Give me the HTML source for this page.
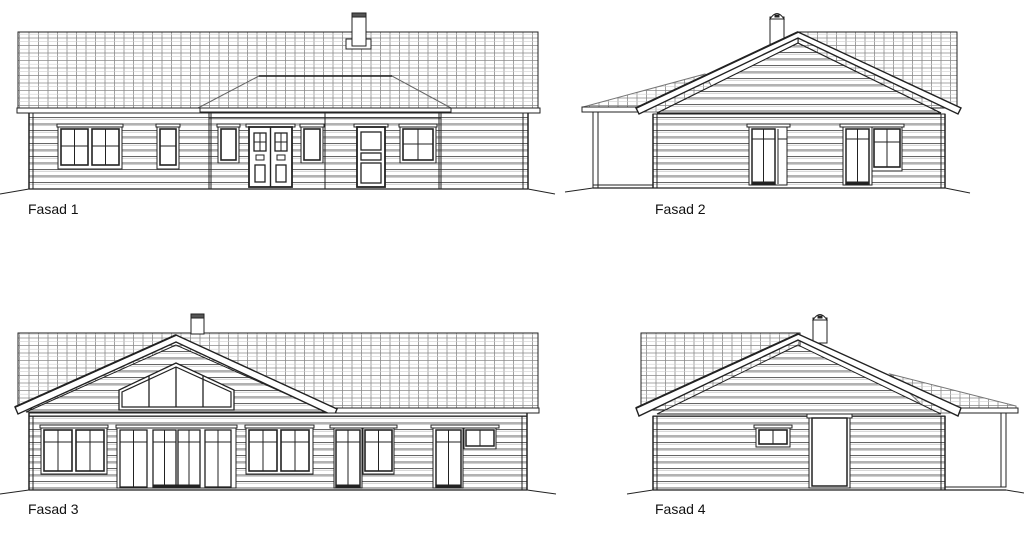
<!DOCTYPE html>
<html><head><meta charset="utf-8"><style>
html,body{margin:0;padding:0;background:#fff;}
svg{display:block;}
text{font-family:"Liberation Sans",sans-serif;font-size:14px;fill:#111;}
</style></head><body>
<svg width="1024" height="533" viewBox="0 0 1024 533" xmlns="http://www.w3.org/2000/svg">
<defs>
<pattern id="tile" patternUnits="userSpaceOnUse" width="9.5" height="7.5">
<rect width="9.5" height="7.5" fill="#fff"/>
<path d="M0.5 0V7.5M0 0.5H9.5" stroke="#8a8a8a" stroke-width="0.8"/>
<path d="M0 4.2H9.5" stroke="#cfcfcf" stroke-width="0.6"/>
</pattern>
<pattern id="sid" patternUnits="userSpaceOnUse" width="10" height="6.5">
<rect width="10" height="6.5" fill="#fff"/>
<path d="M0 0.5H10" stroke="#555" stroke-width="0.9"/>
<path d="M0 2.2H10" stroke="#b0b0b0" stroke-width="0.6"/>
</pattern>
</defs>
<g stroke="#222" stroke-width="1" fill="none">

<!-- ================= FASAD 1 ================= -->
<rect x="18" y="32" width="520" height="77" fill="url(#tile)"/>
<polygon points="198,108 259,76 392,76 451,108" fill="url(#tile)" stroke="#666"/>
<line x1="259" y1="76" x2="392" y2="76" stroke-width="1.5"/>
<rect x="346" y="39" width="25" height="10" fill="#fff"/>
<rect x="352" y="13" width="14" height="33" fill="#fff"/>
<rect x="352" y="13" width="14" height="4" fill="#555"/>
<rect x="17" y="108" width="523" height="5" fill="#fff"/>
<rect x="200" y="108" width="251" height="4" fill="#fff"/>
<rect x="29" y="113" width="499" height="76" fill="url(#sid)"/>
<line x1="29" y1="113" x2="29" y2="189" stroke-width="1.5"/>
<line x1="33" y1="113" x2="33" y2="189"/>
<line x1="528" y1="113" x2="528" y2="189" stroke-width="1.5"/>
<line x1="523" y1="113" x2="523" y2="189"/>
<line x1="209" y1="113" x2="209" y2="189"/><line x1="211" y1="113" x2="211" y2="189"/>
<line x1="441" y1="113" x2="441" y2="189"/><line x1="439" y1="113" x2="439" y2="189"/>
<line x1="325" y1="113" x2="325" y2="189"/>
<line x1="209" y1="118" x2="441" y2="118"/>
<line x1="29" y1="189" x2="528" y2="189" stroke-width="1.2"/>
<line x1="0" y1="194" x2="29" y2="189"/><line x1="528" y1="189" x2="555" y2="194"/>
<rect x="57" y="124" width="66" height="3" fill="#fff"/>
<rect x="58" y="127" width="64" height="42" fill="#fff"/>
<rect x="61" y="129" width="27" height="36" stroke-width="1.6"/>
<rect x="92" y="129" width="27" height="36" stroke-width="1.6"/>
<path d="M74.5 129V165M105.5 129V165M61 146H88M92 146H119"/>
<rect x="156" y="124" width="24" height="3" fill="#fff"/>
<rect x="157" y="127" width="22" height="42" fill="#fff"/>
<rect x="160" y="129" width="16" height="36" stroke-width="1.6"/>
<path d="M160 146H176"/>
<rect x="217" y="124" width="23" height="3" fill="#fff"/>
<rect x="218" y="127" width="21" height="36" fill="#fff"/>
<rect x="221" y="129" width="15" height="31" stroke-width="1.6"/>
<rect x="246" y="124" width="49" height="3" fill="#fff"/>
<rect x="249" y="127" width="43" height="60" fill="#fff" stroke-width="1.8"/>
<line x1="270.5" y1="127" x2="270.5" y2="187" stroke-width="1.4"/>
<rect x="254" y="133" width="12" height="18" stroke-width="1.3"/><path d="M260 133V151M254 142H266"/>
<rect x="256" y="155" width="8" height="5"/><rect x="255" y="165" width="10" height="17" stroke-width="1.3"/>
<rect x="275" y="133" width="12" height="18" stroke-width="1.3"/><path d="M281 133V151M275 142H287"/>
<rect x="277" y="155" width="8" height="5"/><rect x="276" y="165" width="10" height="17" stroke-width="1.3"/>
<rect x="300" y="124" width="24" height="3" fill="#fff"/>
<rect x="301" y="127" width="22" height="36" fill="#fff"/>
<rect x="304" y="129" width="16" height="31" stroke-width="1.6"/>
<rect x="354" y="124" width="34" height="3" fill="#fff"/>
<rect x="357" y="127" width="28" height="60" fill="#fff" stroke-width="1.8"/>
<rect x="361" y="132" width="20" height="18" stroke-width="1.3"/>
<rect x="361" y="153" width="20" height="7" stroke-width="1.3"/>
<rect x="361" y="163" width="20" height="20" stroke-width="1.3"/>
<rect x="399" y="124" width="38" height="3" fill="#fff"/>
<rect x="400" y="127" width="36" height="36" fill="#fff"/>
<rect x="403" y="129" width="30" height="31" stroke-width="1.6"/>
<path d="M418 129V160M403 144H433"/>

<!-- ================= FASAD 2 ================= -->
<rect x="798" y="32" width="159" height="76" fill="url(#tile)"/>
<polygon points="583,107 705,74 725,112 640,112" fill="url(#tile)" stroke="#777"/>
<rect x="582" y="107" width="60" height="5" fill="#fff"/>
<rect x="770" y="17" width="14" height="27" fill="#fff"/>
<path d="M770 19Q777 8 784 19Z" fill="#fff"/><rect x="775" y="15" width="4" height="2" fill="#222"/>
<polygon points="798,43 657,113 941,113" fill="url(#sid)" stroke="#222"/>
<polygon points="798,32 636,108 639,114 798,38 958,114 961,108" fill="#fff" stroke-width="1.4"/>
<line x1="798" y1="32" x2="636" y2="108" stroke-width="2"/>
<line x1="798" y1="43" x2="657" y2="113"/><line x1="798" y1="43" x2="941" y2="113"/>
<rect x="653" y="114" width="292" height="74" fill="url(#sid)"/>
<line x1="653" y1="114" x2="653" y2="188" stroke-width="1.5"/><line x1="657" y1="114" x2="657" y2="188"/>
<line x1="945" y1="114" x2="945" y2="188" stroke-width="1.5"/><line x1="941" y1="114" x2="941" y2="188"/>
<rect x="593" y="112" width="5" height="76" fill="#fff"/>
<line x1="593" y1="185" x2="653" y2="185"/>
<line x1="593" y1="188" x2="945" y2="188" stroke-width="1.2"/>
<line x1="565" y1="192" x2="593" y2="188"/><line x1="945" y1="188" x2="970" y2="193"/>
<rect x="747" y="124" width="43" height="3" fill="#fff"/>
<rect x="749" y="127" width="38" height="58" fill="#fff"/>
<rect x="752" y="129" width="23" height="55" stroke-width="1.5"/>
<path d="M763.5 129V184M752 139H775M778 129V184M778 139H787"/>
<rect x="752" y="182" width="23" height="2" fill="#222"/>
<rect x="840" y="124" width="64" height="3" fill="#fff"/>
<rect x="843" y="127" width="29" height="58" fill="#fff"/>
<rect x="846" y="129" width="23" height="55" stroke-width="1.5"/>
<path d="M857.5 129V184M846 139H869"/>
<rect x="846" y="182" width="23" height="2" fill="#222"/>
<rect x="872" y="127" width="30" height="44" fill="#fff"/>
<rect x="874" y="129" width="26" height="38" stroke-width="1.6"/>
<path d="M887 129V167M874 142H900"/>

<!-- ================= FASAD 3 ================= -->
<rect x="18" y="333" width="520" height="76" fill="url(#tile)"/>
<rect x="191" y="314" width="13" height="20" fill="#fff"/>
<rect x="191" y="314" width="13" height="4" fill="#555"/>
<rect x="336" y="408" width="203" height="5" fill="#fff"/>
<polygon points="176,345 26,412 327,412" fill="url(#sid)" stroke="#222"/>
<polygon points="176,335 15,407 18,414 176,342 334,416 337,409" fill="#fff" stroke-width="1.4"/>
<line x1="176" y1="335" x2="15" y2="407" stroke-width="2"/>
<polygon points="119,410 119,390 176,363 234,390 234,410" fill="#fff" stroke-width="1.3"/>
<polygon points="122,407 122,392 176,367 231,392 231,407" stroke-width="1.2"/>
<path d="M149 376V407M176 367V407M203 376V407" stroke-width="1.3"/>
<rect x="29" y="413" width="498" height="77" fill="url(#sid)"/>
<line x1="29" y1="416" x2="527" y2="416"/>
<line x1="29" y1="413" x2="29" y2="490" stroke-width="1.5"/><line x1="33" y1="416" x2="33" y2="490"/>
<line x1="527" y1="413" x2="527" y2="490" stroke-width="1.5"/><line x1="522" y1="416" x2="522" y2="490"/>
<line x1="29" y1="490" x2="527" y2="490" stroke-width="1.2"/>
<line x1="0" y1="494" x2="29" y2="490"/><line x1="527" y1="490" x2="556" y2="494"/>
<rect x="40" y="425" width="68" height="3" fill="#fff"/>
<rect x="41" y="428" width="66" height="46" fill="#fff"/>
<rect x="44" y="430" width="28" height="41" stroke-width="1.6"/><rect x="76" y="430" width="28" height="41" stroke-width="1.6"/>
<path d="M58 430V471M90 430V471M44 442H72M76 442H104"/>
<rect x="116" y="425" width="121" height="3" fill="#fff"/>
<rect x="117" y="428" width="119" height="60" fill="#fff"/>
<rect x="120" y="430" width="27" height="57" stroke-width="1.3"/><rect x="153" y="430" width="23" height="57" stroke-width="1.3"/>
<rect x="178" y="430" width="22" height="57" stroke-width="1.3"/><rect x="205" y="430" width="26" height="57" stroke-width="1.3"/>
<path d="M133.5 430V487M164.5 430V487M189 430V487M218 430V487M120 442H147M153 442H176M178 442H200M205 442H231"/>
<rect x="153" y="485" width="47" height="2" fill="#222"/>
<rect x="245" y="425" width="69" height="3" fill="#fff"/>
<rect x="246" y="428" width="67" height="46" fill="#fff"/>
<rect x="249" y="430" width="28" height="41" stroke-width="1.6"/><rect x="281" y="430" width="28" height="41" stroke-width="1.6"/>
<path d="M263 430V471M295 430V471M249 442H277M281 442H309"/>
<rect x="330" y="425" width="67" height="3" fill="#fff"/>
<rect x="334" y="428" width="28" height="60" fill="#fff"/>
<rect x="336" y="430" width="24" height="57" stroke-width="1.5"/>
<path d="M348 430V487M336 442H360"/><rect x="336" y="485" width="24" height="2" fill="#222"/>
<rect x="363" y="428" width="31" height="46" fill="#fff"/>
<rect x="365" y="430" width="27" height="41" stroke-width="1.6"/>
<path d="M378.5 430V471M365 442H392"/>
<rect x="431" y="425" width="68" height="3" fill="#fff"/>
<rect x="433" y="428" width="30" height="60" fill="#fff"/>
<rect x="436" y="430" width="25" height="57" stroke-width="1.5"/>
<path d="M448.5 430V487M436 442H461"/><rect x="436" y="485" width="25" height="2" fill="#222"/>
<rect x="464" y="428" width="32" height="21" fill="#fff"/>
<rect x="466" y="430" width="28" height="16" stroke-width="1.5"/>
<path d="M480 430V446"/>

<!-- ================= FASAD 4 ================= -->
<rect x="641" y="333" width="159" height="77" fill="url(#tile)"/>
<polygon points="890,374 1016,406 1016,413 930,413" fill="url(#tile)" stroke="#777"/>
<rect x="958" y="408" width="60" height="5" fill="#fff"/>
<rect x="813" y="318" width="14" height="25" fill="#fff"/>
<path d="M813 320Q820 309 827 320Z" fill="#fff"/><rect x="818" y="316" width="4" height="2" fill="#222"/>
<polygon points="798,345 657,414 941,414" fill="url(#sid)" stroke="#222"/>
<polygon points="798,334 636,408 639,416 798,340 958,416 961,408" fill="#fff" stroke-width="1.4"/>
<line x1="798" y1="334" x2="636" y2="408" stroke-width="2"/>
<rect x="653" y="416" width="292" height="74" fill="url(#sid)"/>
<line x1="653" y1="416" x2="653" y2="490" stroke-width="1.5"/><line x1="657" y1="416" x2="657" y2="490"/>
<line x1="945" y1="416" x2="945" y2="490" stroke-width="1.5"/><line x1="941" y1="416" x2="941" y2="490"/>
<rect x="1001" y="413" width="5" height="74" fill="#fff"/>
<line x1="945" y1="487" x2="1006" y2="487"/>
<line x1="653" y1="490" x2="1006" y2="490" stroke-width="1.2"/>
<line x1="627" y1="494" x2="653" y2="490"/><line x1="1006" y1="490" x2="1024" y2="493"/>
<rect x="754" y="425" width="38" height="3" fill="#fff"/>
<rect x="756" y="428" width="34" height="19" fill="#fff"/>
<rect x="759" y="430" width="28" height="14" stroke-width="1.6"/>
<path d="M773 430V444"/>
<rect x="807" y="414" width="45" height="4" fill="#fff"/>
<rect x="809" y="418" width="41" height="70" fill="#fff"/>
<rect x="812" y="418" width="35" height="68" stroke-width="1.5"/>
</g>
<text x="28" y="214">Fasad 1</text>
<text x="655" y="214">Fasad 2</text>
<text x="28" y="514">Fasad 3</text>
<text x="655" y="514">Fasad 4</text>
</svg>
</body></html>
